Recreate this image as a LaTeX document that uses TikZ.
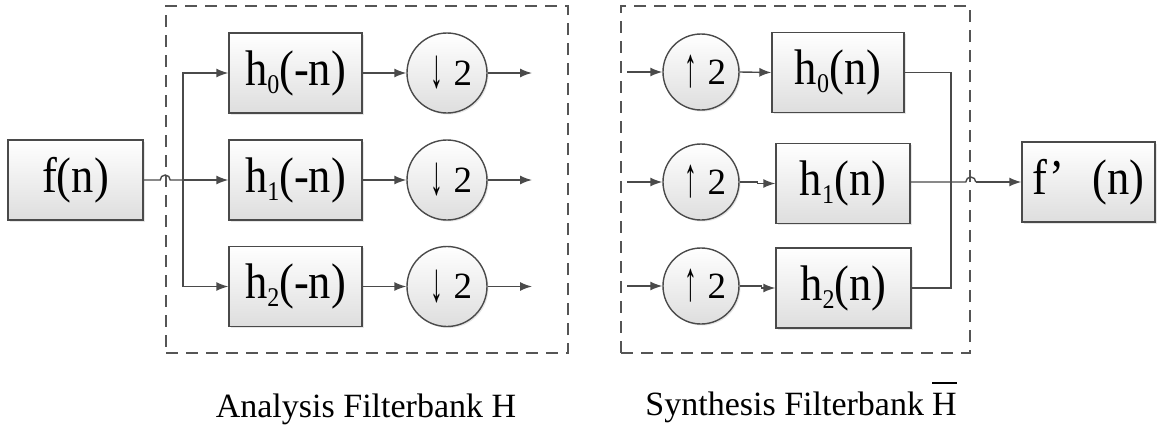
\documentclass[tikz,border=0pt]{standalone}
\usepackage{fontspec}
\setmainfont{Liberation Serif}
\newfontfamily\boxfont{Liberation Serif}[FakeStretch=0.89]
\usetikzlibrary{arrows.meta,shadows,calc}

\definecolor{linegray}{HTML}{4A4A4A}
\definecolor{framegray}{HTML}{555555}

% H with a bar over it
\newcommand{\barH}{\leavevmode\vbox{\hrule height 1.3pt\kern 9pt\hbox{H}}}
% lowered index in the filter names
\newcommand{\idx}[1]{\raisebox{-8pt}{\fontsize{27}{27}\selectfont #1}}
% rate changer label: tall narrow arrow and factor, centred on one line
\newcommand{\rate}[2]{\hspace{9pt}$\vcenter{\hbox{\scalebox{0.8}[1.75]{#1}}}$\hspace{10pt}$\vcenter{\hbox{\fontsize{37}{38}\selectfont #2}}$}

\begin{document}
\begin{tikzpicture}[x=1pt,y=-1pt,
  wire/.style={draw=linegray,line width=1.4pt},
  flow/.style={wire,-{Latex[length=12pt,width=9pt]}},
  blockshade/.style={draw=linegray,line width=1.4pt,top color=white,bottom color=black!13,
    drop shadow={shadow xshift=1.5pt,shadow yshift=-1.5pt,opacity=0.2}},
  filterbox/.style={blockshade,rectangle,minimum height=80pt,inner sep=0pt,
    font=\boxfont\fontsize{50}{54}\selectfont},
  ratecircle/.style={blockshade,circle,inner sep=0pt,font=\fontsize{32}{34}\selectfont},
  groupframe/.style={draw=framegray,line width=1.6pt,dash pattern=on 12pt off 8pt,
    rectangle,inner sep=0pt,minimum height=347pt},
  caption/.style={font=\fontsize{34}{36}\selectfont,anchor=base},
  hop/.style={radius=5pt,start angle=180,end angle=0}
]
\useasboundingbox (0,0) rectangle (1157,426);

% group frames
\node[groupframe,minimum width=402pt] (ana) at (367,179.5) {};
\node[groupframe,minimum width=349pt] (syn) at (795.5,179.5) {};

% input
\node[filterbox,minimum width=135pt] (f) at (75.5,180) {f(n)};

% analysis branch
\node[filterbox,minimum width=133pt] (ha0) at (295.5,73) {h\idx{0}(-n)};
\node[filterbox,minimum width=133pt] (ha1) at (295.5,180) {h\idx{1}(-n)};
\node[filterbox,minimum width=133pt] (ha2) at (295.5,286.5) {h\idx{2}(-n)};
\node[ratecircle,minimum size=80pt] (d0) at (447,73) {\rate{↓}{2}};
\node[ratecircle,minimum size=80pt] (d1) at (447,180) {\rate{↓}{2}};
\node[ratecircle,minimum size=80pt] (d2) at (447,286.5) {\rate{↓}{2}};
\coordinate (oa0) at (532,73);
\coordinate (oa1) at (532,180);
\coordinate (oa2) at (532,286.5);

% synthesis branch
\coordinate (is0) at (627,72);
\coordinate (is1) at (627,182);
\coordinate (is2) at (627,286);
\node[ratecircle,minimum size=76pt] (u0) at (701,72) {\rate{↑}{2}};
\node[ratecircle,minimum size=76pt] (u1) at (701,182) {\rate{↑}{2}};
\node[ratecircle,minimum size=76pt] (u2) at (701,286) {\rate{↑}{2}};
\node[filterbox,minimum width=132pt] (hs0) at (838,72.5) {h\idx{0}(n)};
\node[filterbox,minimum width=134pt] (hs1) at (843,183.5) {h\idx{1}(n)};
\node[filterbox,minimum width=135pt] (hs2) at (843.5,288) {h\idx{2}(n)};

% output
\node[filterbox,minimum width=133pt] (fo) at (1088.5,182) {f’\hspace{28pt}(n)};

% splitting the input
\coordinate (split) at (183,180);
\coordinate (hopa) at (ana.west |- f.east);
\draw[wire] (f.east) -- ($(hopa)+(-5,0)$) arc[hop] -- (split);
\draw[flow] (split) |- (ha0.west);
\draw[flow] (split) -- (ha1.west);
\draw[flow] (split) |- (ha2.west);

% analysis paths
\foreach \i in {0,1,2}{
  \draw[flow] (ha\i.east) -- (d\i.west);
  \draw[flow] (d\i.east) -- (oa\i);
}

% synthesis paths
\foreach \i in {0,1,2}{
  \draw[flow] (is\i) -- (u\i.west);
}
\draw[flow] (u0.east) -- (hs0.west);
\draw[flow] (u1.east) -- ++(18,0) |- (hs1.west);
\draw[flow] (u2.east) -- ++(22,0) |- (hs2.west);

% merging the outputs
\coordinate (merge) at (951,182);
\coordinate (hops) at (syn.east |- fo.west);
\draw[wire] (hs0.east) -| (merge);
\draw[wire] (hs2.east) -| (merge);
\draw[wire] (hs1.east |- merge) -- (merge) -- ($(hops)+(-5,0)$) arc[hop] -- ($(hops)+(5,0)$);
\draw[flow] ($(hops)+(5,0)$) -- (fo.west);

% captions
\node[caption] (capa) at (366,417) {Analysis Filterbank H};
\node[caption] (caps) at (801,415) {Synthesis Filterbank\hspace{8pt}\barH};
\end{tikzpicture}
\end{document}
